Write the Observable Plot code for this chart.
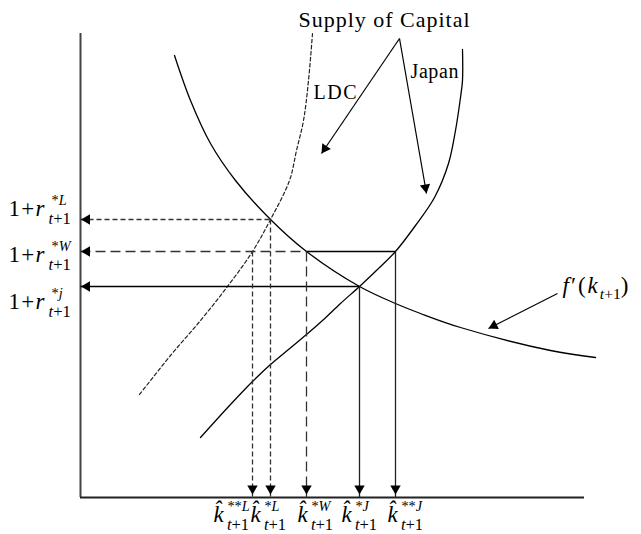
<!DOCTYPE html>
<html><head><meta charset="utf-8">
<script src="https://cdn.jsdelivr.net/npm/d3@7"></script>
<script src="https://cdn.jsdelivr.net/npm/@observablehq/plot@0.6"></script>
<style>body{margin:0;background:#fff;overflow:hidden} #chart svg{display:block}</style>
</head><body><div id="chart"></div>
<script>
// ---- data (units: capital k along x, gross return 1+r along y; origin at the axes corner) ----
// f'(k_{t+1}) : marginal product of capital (demand)
const demandK = [94,110,130,155,190,226,279,315,340,380,470,515];
const demandR = [442,397,354,317,278,246,211,194,184,170,147,140];
// Supply of capital, LDC (dashed)
const ldcK = [232,228,223,216,209,190,172,147,120,90,59];
const ldcR = [464,417,377,347,317,278,246,211,177,142,103];
// Supply of capital, Japan (solid)
const japanK = [382,382,380,375,368,354,335,315,298,279,260,242,226,208,190,172,150,120];
const japanR = [448,417,400,367,334,300,272,246,229,211,194,177,163,148,133,116,93,60];
// equilibrium rates (L, W, J) and capital levels
const rateSup = ["*<i>L</i>", "*<i>W</i>", "*<i>j</i>"];
const rateValues = [278, 246, 211];
const kSup = ["**<i>L</i>", "*<i>L</i>", "*<i>W</i>", "*<i>J</i>", "**<i>J</i>"];
const kValues = [172, 190, 226, 279, 315];
const kRate = [246, 278, 246, 211, 246];

// ---- layout ----
const FONT = '"Liberation Serif","Times New Roman",serif';
const axisTop = 464, axisRight = 504;
const [rL, rW, rJ] = rateValues;
const [kLL, kL, kW, kJ, kJJ] = kValues;
const pts = (K, R) => K.map((k, i) => ({k, r: R[i]}));

// arrow-head helper: filled triangle with its tip at `tip`, pointing away from `from`
function head(tip, from) {
  const dx = tip[0] - from[0], dy = tip[1] - from[1];
  const len = Math.hypot(dx, dy), ux = dx / len, uy = dy / len;
  return {x: tip[0] - 6 * ux, y: tip[1] - 6 * uy, rotate: Math.atan2(ux, uy) * 180 / Math.PI};
}
const heads = [];
rateValues.forEach(r => heads.push(head([0.5, r], [50, r])));
kValues.forEach((k, i) => heads.push(head([k, 3], [k, kRate[i]])));
const apex = [319, 459];
const pointers = [
  {from: apex, to: [241, 344]},
  {from: apex, to: [346, 304]},
  {from: [477, 204], to: [408, 169]}
];
pointers.forEach(p => heads.push(head(p.to, p.from)));

const rateLabelBase = [282, 236, 189];
const yLabels = rateSup.map((s, i) => ({x: -72, y: rateLabelBase[i],
  t: "1+<i>r</i><sup>" + s + "</sup><sub><i>t</i>+1</sub>"}));
const kLeft = [133, 170, 217, 261, 307];
const kLabels = kSup.map((s, i) => ({x: kLeft[i], y: -24,
  t: "<i>k\u0302</i><sup>" + s + "</sup><sub><i>t</i>+1</sub>"}));

const svg = Plot.plot({
  width: 641, height: 534, margin: 0,
  style: {fontFamily: FONT, background: "#fff", color: "#000"},
  x: {domain: [-80, 561], axis: null},
  y: {domain: [-37, 497], axis: null},
  marks: [
    // axes
    Plot.ruleX([0], {y1: 0, y2: axisTop, stroke: "#444", strokeWidth: 2}),
    Plot.ruleY([0], {x1: 0, x2: axisRight, stroke: "#222", strokeWidth: 2}),
    // curves
    Plot.line(pts(demandK, demandR), {x: "k", y: "r", curve: "catmull-rom", stroke: "#000", strokeWidth: 1.3}),
    Plot.line(pts(ldcK, ldcR), {x: "k", y: "r", curve: "catmull-rom", stroke: "#222", strokeWidth: 1.2, strokeDasharray: "3.5,2.5"}),
    Plot.line(pts(japanK, japanR), {x: "k", y: "r", curve: "catmull-rom", stroke: "#000", strokeWidth: 1.3}),
    // guide lines
    Plot.link([{x1: 0, x2: kL, y: rL}], {x1: "x1", x2: "x2", y1: "y", y2: "y", stroke: "#333", strokeWidth: 1.3, strokeDasharray: "5,3"}),
    Plot.link([{x1: 0, x2: kW, y: rW}], {x1: "x1", x2: "x2", y1: "y", y2: "y", stroke: "#333", strokeWidth: 1.3, strokeDasharray: "10,5"}),
    Plot.link([{x1: kW, x2: kJJ, y: rW}, {x1: 0, x2: kJ, y: rJ}], {x1: "x1", x2: "x2", y1: "y", y2: "y", stroke: "#000", strokeWidth: 1.3}),
    Plot.link([{x: kLL, y: rW}, {x: kL, y: rL}], {x1: "x", x2: "x", y1: "y", y2: 0, stroke: "#333", strokeWidth: 1.3, strokeDasharray: "5,3"}),
    Plot.link([{x: kW, y: rW}], {x1: "x", x2: "x", y1: "y", y2: 0, stroke: "#333", strokeWidth: 1.3, strokeDasharray: "10,5"}),
    Plot.link([{x: kJ, y: rJ}, {x: kJJ, y: rW}], {x1: "x", x2: "x", y1: "y", y2: 0, stroke: "#222", strokeWidth: 1.3}),
    // pointer lines
    Plot.link(pointers, {x1: d => d.from[0], y1: d => d.from[1], x2: d => d.to[0], y2: d => d.to[1], stroke: "#000", strokeWidth: 1.2}),
    // arrow heads
    Plot.dot(heads, {x: "x", y: "y", rotate: "rotate", symbol: "triangle", r: 3.86, fill: "#000", stroke: "none"}),
    // texts
    Plot.text(["Supply of Capital"], {x: 304, y: 471, text: d => d, fontSize: 22, lineAnchor: "bottom"}),
    Plot.text(["LDC"], {x: 233, y: 399, text: d => d, fontSize: 20, textAnchor: "start", lineAnchor: "bottom"}),
    Plot.text(["Japan"], {x: 330, y: 420, text: d => d, fontSize: 20, textAnchor: "start", lineAnchor: "bottom"}),
    Plot.text(["<i>f</i>\u2032(<i>k</i><sub><i>t</i>+1</sub>)"], {x: 482, y: 205, text: d => d, fontSize: 23, textAnchor: "start", lineAnchor: "bottom"}),
    Plot.text(yLabels, {x: "x", y: "y", text: "t", fontSize: 23, textAnchor: "start", lineAnchor: "bottom"}),
    Plot.text(kLabels, {x: "x", y: "y", text: "t", fontSize: 23, textAnchor: "start", lineAnchor: "bottom"})
  ]
});
document.getElementById("chart").appendChild(svg);

// simple markup (<i>, <sup>, <sub>) -> tspans; sup/sub stacked when they follow each other
const spacing = {"Supply of Capital": 1.0, "LDC": 1.5, "Japan": 0.6};
const NS = "http://www.w3.org/2000/svg";
svg.querySelectorAll("text").forEach(t => {
  const s = t.textContent;
  if (spacing[s] != null) t.setAttribute("letter-spacing", spacing[s]);
  if (!s.includes("<")) return;
  const isF = s.startsWith("<i>f</i>");
  const isR = s.startsWith("1+");
  const g = t.closest("g[font-size]");
  const fs = g ? parseFloat(g.getAttribute("font-size")) : 16;
  t.textContent = "";
  let italic = false, mode = "base", shifted = 0, supSpans = [], stackNext = false;
  s.split(/(<\/?i>|<\/?sup>|<\/?sub>)/).forEach(part => {
    if (!part) return;
    if (part === "<i>") { italic = true; return; }
    if (part === "</i>") { italic = false; return; }
    if (part === "<sup>") { mode = "sup"; supSpans = []; return; }
    if (part === "</sup>") { mode = "base"; stackNext = true; return; }
    if (part === "<sub>") { mode = "sub"; return; }
    if (part === "</sub>") { mode = "base"; stackNext = false; return; }
    const ts = document.createElementNS(NS, "tspan");
    ts.textContent = part;
    if (italic) ts.setAttribute("font-style", "italic");
    const target = mode === "sup" ? -0.44 * fs : mode === "sub" ? (isF ? 0.27 : 0.38) * fs : 0;
    if (target !== shifted) { ts.setAttribute("dy", target - shifted); shifted = target; }
    if (mode === "sup") {
      ts.setAttribute("font-size", 0.62 * fs);
      if (supSpans.length === 0) ts.setAttribute("dx", isR ? 6 : 2.5);
    }
    if (mode === "sub") { ts.setAttribute("font-size", (isF ? 0.68 : 0.72) * fs); }
    if (mode === "base") { ts.setAttribute("letter-spacing", isF ? 2 : 1.2); }
    t.appendChild(ts);
    if (mode === "sup") supSpans.push(ts);
    if (mode === "sub" && stackNext) {
      const w = supSpans.reduce((a, sp) => a + sp.getComputedTextLength(), 0);
      ts.setAttribute("dx", -w - (isR ? 3 : 0.5));
      stackNext = false;
    }
  });
});
</script>
</body></html>
